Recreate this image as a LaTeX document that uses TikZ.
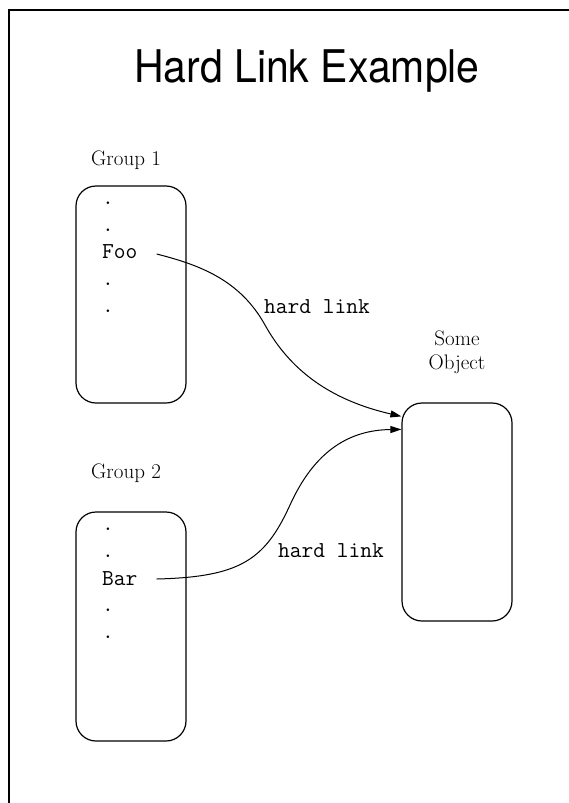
\documentclass[tikz,border=0pt]{standalone}
\usepackage{fontspec}
\newfontfamily\ttl{TeX Gyre Heros}
\usetikzlibrary{arrows.meta,calc}
\tikzset{
  box/.style={draw, line width=1.2pt, rounded corners=20pt, minimum width=110pt, inner sep=0pt},
  mono/.style={font=\ttfamily\fontsize{22.8}{26}\selectfont, inner sep=0pt, anchor=base west},
  serif/.style={font=\fontsize{21}{24}\selectfont, inner sep=0pt},
  link/.style={line width=1pt, -{Triangle[length=11pt,width=7pt]}}
}
\begin{document}
\begin{tikzpicture}[x=1pt,y=-1pt]
\useasboundingbox (0,0) rectangle (569,803);
% frame
\draw[line width=2pt] (9,803) -- (9,10) -- (569,10);
% title
\node[inner sep=0pt, anchor=base west, font=\ttl\fontsize{45}{50}\selectfont] (title) at (134,82) {\scalebox{0.91}[1]{Hard Link Example}};
% group labels
\node[serif, anchor=base west] (lg1) at (91,165) {Group 1};
\node[serif, anchor=base west] (lg2) at (91,478) {Group 2};
% boxes
\node[box, minimum height=217pt] (g1) at (131,294.5) {};
\node[box, minimum height=229pt] (g2) at (131,626.5) {};
\node[box, minimum height=218pt] (obj) at (457,512) {};
\node[serif, align=center, anchor=base] (lobj) at (457,369) {Some\\[-0.5pt]Object};
% contents group 1
\node[mono] (d11) at (102,204) {.};
\node[mono] (d12) at (102,231) {.};
\node[mono] (foo) at (102,258) {Foo};
\node[mono] (d13) at (102,285) {.};
\node[mono] (d14) at (102,312) {.};
% contents group 2
\node[mono] (d21) at (102,530) {.};
\node[mono] (d22) at (102,557) {.};
\node[mono] (bar) at (102,585) {Bar};
\node[mono] (d23) at (102,611) {.};
\node[mono] (d24) at (102,638) {.};
% link labels
\node[mono] (hl1) at (264,313) {hard link};
\node[mono] (hl2) at (278,557) {hard link};
% connectors
\coordinate (s1) at ($(foo.base east)+(19,-4)$);
\coordinate (s2) at ($(bar.base east)+(19,-6)$);
\coordinate (t1) at ($(obj.north west)+(0,14)$);
\coordinate (t2) at ($(obj.north west)+(0,27)$);
\draw[link] (s1) .. controls (200,265) and (240,280) .. (265,325)
  .. controls (290,370) and (330,400) .. (t1);
\draw[link] (s2) .. controls (240,577) and (265,560) .. (290,505)
  .. controls (315,450) and (350,430) .. (t2);
\end{tikzpicture}
\end{document}
